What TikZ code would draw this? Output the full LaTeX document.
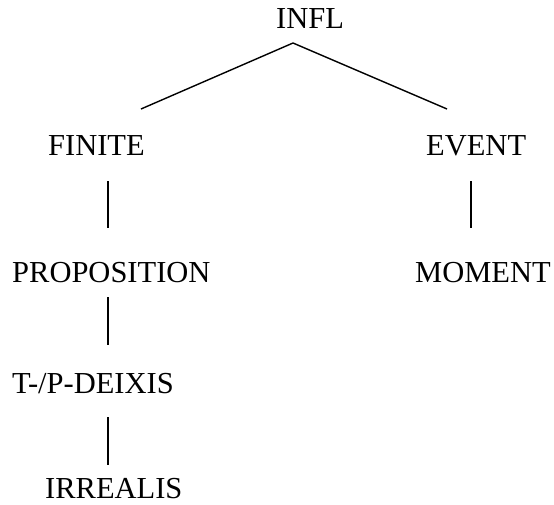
\documentclass[tikz,border=0pt]{standalone}
\usepackage{fontspec}
\setmainfont{Liberation Serif}
\usetikzlibrary{calc}
\begin{document}
\begin{tikzpicture}[x=1pt,y=-1pt,
  lbl/.style={anchor=base west,inner sep=0pt,font=\fontsize{30.5}{36}\selectfont},
  edge/.style={line width=1.4pt}]
\useasboundingbox[fill=white] (0,0) rectangle (554,504);
\node[lbl] (infl) at (276,28) {INFL};
\node[lbl] (fin) at (48,155) {FINITE};
\node[lbl] (evt) at (426,155) {EVENT};
\node[lbl] (prop) at (12,282) {PROPOSITION};
\node[lbl] (mom) at (415,282) {MOMENT};
\node[lbl] (tpd) at (12,393) {T-/P-DEIXIS};
\node[lbl] (irr) at (45,498) {IRREALIS};
\draw[edge] ($(infl.base west)+(17,15)$) -- ($(fin.base west)+(93,-46)$);
\draw[edge] ($(infl.base west)+(17,15)$) -- ($(evt.base west)+(21,-46)$);
\draw[edge] ($(fin.base west)+(60,26)$) -- ($(prop.base west)+(96,-54)$);
\draw[edge] ($(evt.base west)+(45,26)$) -- ($(mom.base west)+(56,-54)$);
\draw[edge] ($(prop.base west)+(96,15)$) -- ($(tpd.base west)+(96,-48)$);
\draw[edge] ($(tpd.base west)+(96,24)$) -- ($(irr.base west)+(63,-33)$);
\end{tikzpicture}
\end{document}
